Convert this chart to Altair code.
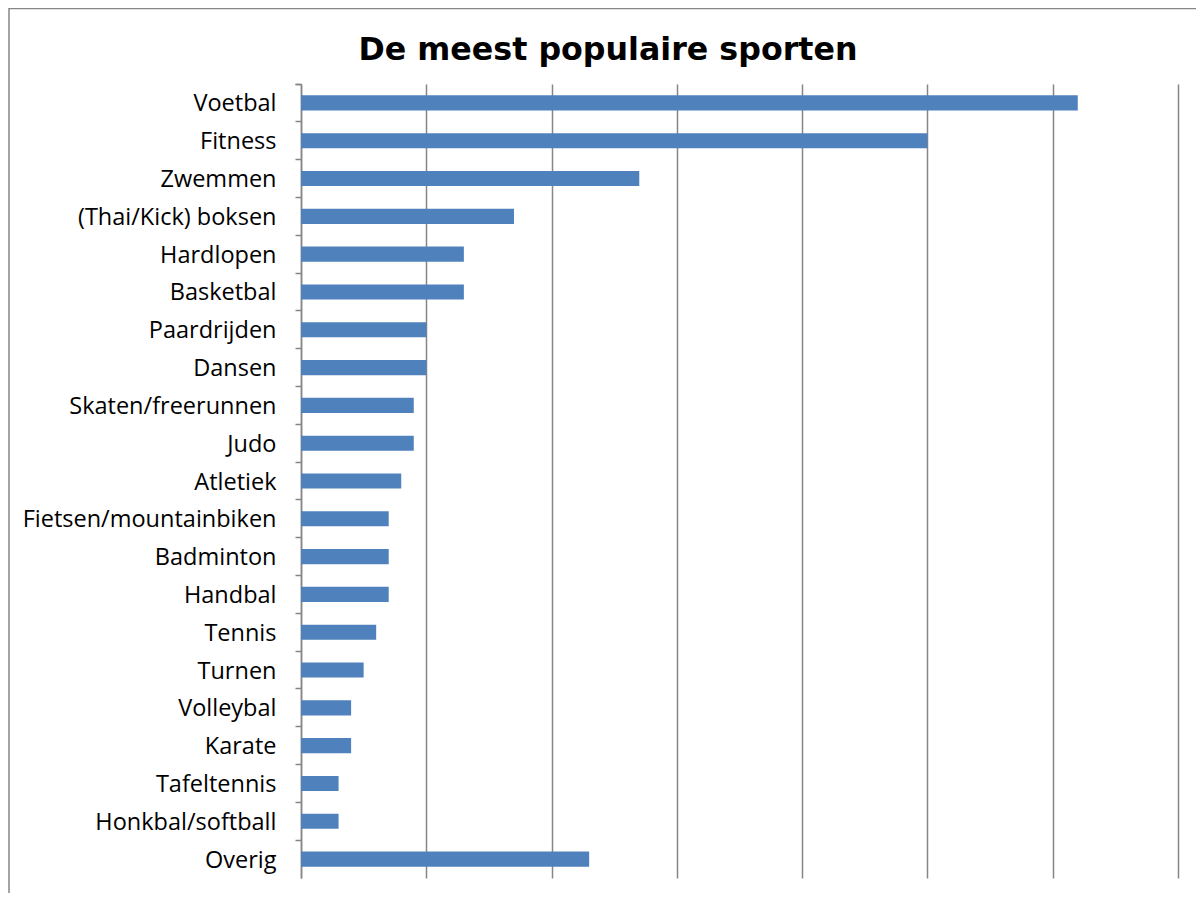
import altair as alt
import pandas as pd

sports = ["Voetbal", "Fitness", "Zwemmen", "(Thai/Kick) boksen", "Hardlopen", "Basketbal",
          "Paardrijden", "Dansen", "Skaten/freerunnen", "Judo", "Atletiek",
          "Fietsen/mountainbiken", "Badminton", "Handbal", "Tennis", "Turnen",
          "Volleybal", "Karate", "Tafeltennis", "Honkbal/softball", "Overig"]
values = [31, 25, 13.5, 8.5, 6.5, 6.5, 5, 5, 4.5, 4.5, 4, 3.5, 3.5, 3.5, 3, 2.5, 2, 2, 1.5, 1.5, 11.5]
grid_values = [0, 5, 10, 15, 20, 25, 30, 35]
title_text = "De meest populaire sporten"

df = pd.DataFrame({"sport": sports, "value": values})

GRAY = "#868686"

bars = alt.Chart(df).mark_bar(color="#4F81BD", height={"band": 0.4}).encode(
    x=alt.X("value:Q",
            scale=alt.Scale(domain=[0, 35], nice=False),
            axis=alt.Axis(values=grid_values, labels=False, ticks=False, domain=False,
                          grid=True, gridColor=GRAY, gridWidth=1.5, gridOpacity=1, title=None)),
    y=alt.Y("sport:N", sort=sports,
            scale=alt.Scale(paddingInner=0, paddingOuter=0),
            axis=alt.Axis(title=None, bandPosition=0, tickExtra=True, tickSize=6,
                          tickColor=GRAY, tickWidth=1.5, domainColor=GRAY, domainWidth=1.5,
                          labelFont="Open Sans", labelFontSize=23.5, labelColor="black",
                          labelPadding=19, labelLimit=500, labelOffset=1.5, grid=False)),
    tooltip=["sport", "value"],
)

one_row = alt.Data(values=[{"t": title_text}])

border = alt.Chart(one_row).mark_rect(
    filled=False, stroke=GRAY, strokeWidth=1.5, clip=False
).encode(
    x=alt.value(-292), x2=alt.value(960), y=alt.value(-75.5), y2=alt.value(860)
)

title = alt.Chart(one_row).mark_text(
    font="DejaVu Sans", fontSize=31.7, fontWeight="bold", color="black",
    align="center", baseline="alphabetic", clip=False
).encode(
    text="t:N", x=alt.value(307), y=alt.value(-24)
)

chart = alt.layer(border, bars, title).properties(
    width=877, height=794,
    padding={"left": 293, "top": 76, "right": 18, "bottom": 15},
    autosize=alt.AutoSizeParams(type="none"),
).configure_view(stroke=None)

chart.save("out.html", embed_options={"renderer": "svg", "actions": False})
